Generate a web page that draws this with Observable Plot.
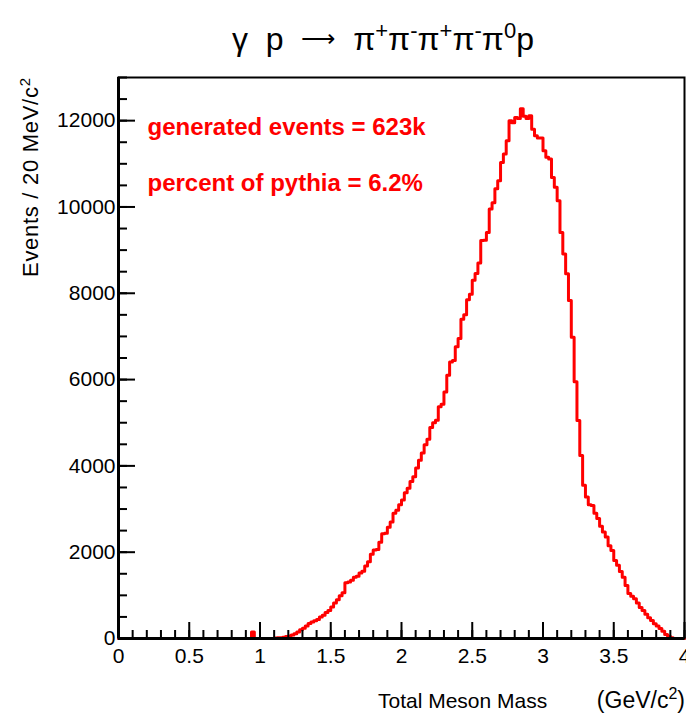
<!DOCTYPE html>
<html><head><meta charset="utf-8">
<script src="https://cdn.jsdelivr.net/npm/d3@7"></script>
<script src="https://cdn.jsdelivr.net/npm/@observablehq/plot@0.6"></script>
<style>body{margin:0;background:#fff} svg{display:block}</style>
</head><body><div id="chart"></div>
<script>
// Histogram: Total Meson Mass, 200 bins of 0.02 GeV from 0 to 4
const binWidth = 0.02;
const counts = [
  0,0,0,0,0,0,0,0,0,0,                 // 0.00-0.18
  0,0,0,0,0,0,0,0,0,0,                 // 0.20-0.38
  0,0,0,0,0,0,0,0,0,0,                 // 0.40-0.58
  0,0,0,0,0,0,0,0,0,0,                 // 0.60-0.78
  0,0,0,0,0,0,0,150,0,0,               // 0.80-0.98
  0,0,0,0,0,10,15,20,30,45,            // 1.00-1.18
  60,80,110,150,200,240,290,350,380,410,          // 1.20-1.38
  440,500,540,600,650,730,820,900,990,1060,       // 1.40-1.58
  1290,1310,1350,1420,1440,1520,1560,1680,1780,1950, // 1.60-1.78
  2050,2060,2230,2430,2440,2580,2700,2900,2970,3100, // 1.80-1.98
  3210,3380,3480,3640,3750,3950,4130,4300,4490,4620, // 2.00-2.18
  4890,5000,5060,5370,5430,5710,6100,6410,6440,6760, // 2.20-2.38
  6950,7400,7500,7850,7980,8300,8460,8700,9220,9230, // 2.40-2.58
  9410,9950,10100,10420,10610,11030,11230,11535,12000,11950, // 2.60-2.78
  12075,12050,12275,12100,12050,12115,11800,11650,11600,11600, // 2.80-2.98
  11300,11150,11110,10685,10455,10146,9410,8910,8450,7830, // 3.00-3.18
  6980,5950,5050,4240,3550,3280,3100,3080,2900,2780, // 3.20-3.38
  2600,2470,2350,2150,2040,1810,1700,1550,1420,1230, // 3.40-3.58
  1040,980,920,820,720,650,560,480,420,340,          // 3.60-3.78
  290,230,170,90,50,20,0,0,0,0                       // 3.80-3.98
];
const xMajorTicks = [0, 0.5, 1, 1.5, 2, 2.5, 3, 3.5, 4];
const xMinorTicks = d3.range(0, 41).map(i => i / 10);
const yMajorTicks = [0, 2000, 4000, 6000, 8000, 10000, 12000];
const yMinorTicks = d3.range(0, 27).map(i => i * 500);
const notes = ["generated events = 623k", "percent of pythia = 6.2%"];

const W = 686, H = 717, mL = 118, mR = 2, mT = 77, mB = 79;
const frameW = W - mL - mR, frameH = H - mT - mB;

const points = counts.map((c, i) => ({x: i * binWidth, y: c}));
points.push({x: counts.length * binWidth, y: counts[counts.length - 1]});

const ff = "'Liberation Sans', Arial, Helvetica, sans-serif";
const svg = Plot.plot({
  width: W, height: H,
  marginLeft: mL, marginRight: mR, marginTop: mT, marginBottom: mB,
  x: {domain: [0, 4]},
  y: {domain: [0, 13000]},
  style: {fontFamily: ff, fontSize: "21px", color: "black", background: "white"},
  marks: [
    Plot.line(points, {x: "x", y: "y", curve: "step-after", stroke: "#ff0000", strokeWidth: 3}),
    Plot.frame({stroke: "black", strokeWidth: 2}),
    Plot.ruleX(xMinorTicks, {insetTop: frameH - 8, stroke: "black", strokeWidth: 2}),
    Plot.ruleX(xMajorTicks, {insetTop: frameH - 16, stroke: "black", strokeWidth: 2}),
    Plot.ruleY(yMinorTicks, {insetRight: frameW - 9, stroke: "black", strokeWidth: 2}),
    Plot.ruleY(yMajorTicks, {insetRight: frameW - 17, stroke: "black", strokeWidth: 2}),
    Plot.ruleX([0], {stroke: "black", strokeWidth: 3}),
    Plot.ruleY([0], {stroke: "black", strokeWidth: 3}),
    Plot.axisX(xMajorTicks, {tickSize: 0, tickPadding: 10, label: null, tickFormat: d => String(d), fontSize: 21}),
    Plot.axisY(yMajorTicks, {tickSize: 0, tickPadding: 3, label: null, tickFormat: d => String(d), fontSize: 21}),
    Plot.text([notes[0]], {frameAnchor: "top-left", dx: 29, dy: 57, textAnchor: "start", lineAnchor: "bottom", fill: "#ff0000", fontWeight: "bold", fontSize: 24}),
    Plot.text([notes[1]], {frameAnchor: "top-left", dx: 29, dy: 113, textAnchor: "start", lineAnchor: "bottom", fill: "#ff0000", fontWeight: "bold", fontSize: 24})
  ]
});

const s = d3.select(svg);
// Title: each part = [text, fontSize, dy]
const t = s.append("text").attr("x", 383).attr("y", 50).attr("text-anchor", "middle")
  .attr("font-family", ff).attr("fill", "black").style("white-space", "pre");
const parts = [
  ["γ  p  ", 32, 0], ["⟶", 24, -3], ["  π", 32, 3],
  ["+", 22, -12], ["π", 32, 12], ["-", 22, -12], ["π", 32, 12], ["+", 22, -12],
  ["π", 32, 12], ["-", 22, -12], ["π", 32, 12], ["0", 22, -12], ["p", 32, 12]
];
for (const [txt, fs, dy] of parts) {
  t.append("tspan").text(txt).attr("font-size", fs).attr("dy", dy);
}
// Y label
const yl = s.append("text").attr("transform", "translate(38,78) rotate(-90)").attr("text-anchor", "end")
  .attr("font-family", ff).attr("font-size", 22).attr("fill", "black")
  .attr("textLength", 199).attr("lengthAdjust", "spacing");
yl.append("tspan").text("Events / 20 MeV/c");
yl.append("tspan").text("2").attr("dy", -8).attr("font-size", 15);
// X label
s.append("text").attr("x", 378).attr("y", 708).attr("text-anchor", "start")
  .attr("font-family", ff).attr("font-size", 21).attr("fill", "black")
  .text("Total Meson Mass");
const xl = s.append("text").attr("x", 685).attr("y", 708).attr("text-anchor", "end")
  .attr("font-family", ff).attr("font-size", 23).attr("fill", "black");
xl.append("tspan").text("(GeV/c");
xl.append("tspan").text("2").attr("dy", -9).attr("font-size", 16);
xl.append("tspan").text(")").attr("dy", 9);

document.getElementById("chart").appendChild(svg);
</script>
</body></html>
